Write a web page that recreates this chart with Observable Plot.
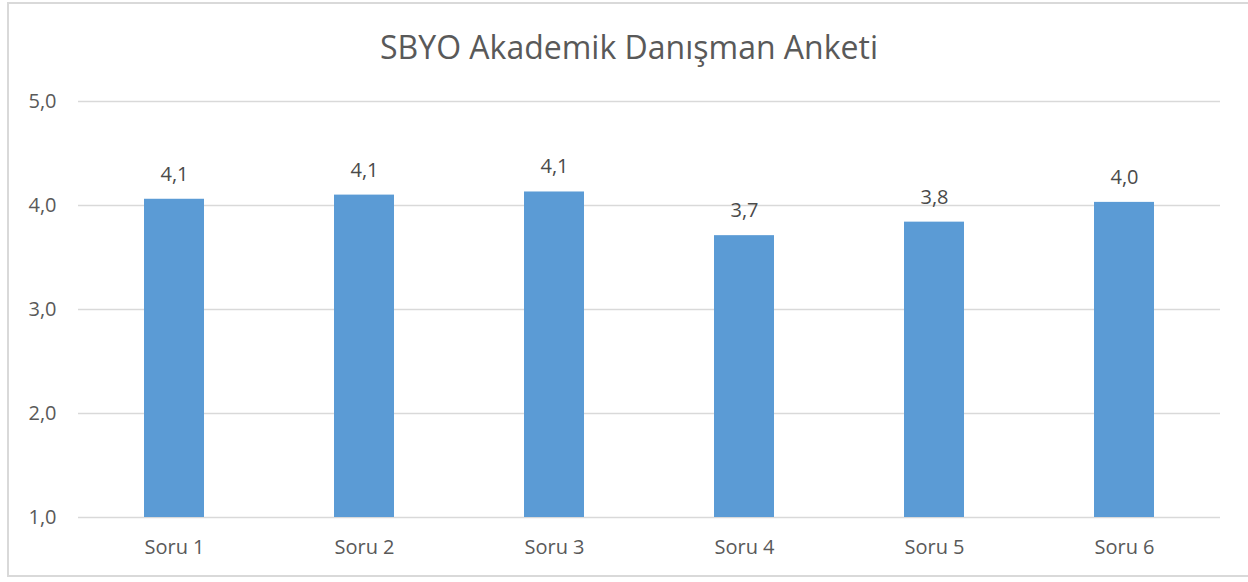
<!DOCTYPE html>
<html>
<head>
<meta charset="utf-8">
<script src="https://cdn.jsdelivr.net/npm/d3@7"></script>
<script src="https://cdn.jsdelivr.net/npm/@observablehq/plot@0.6"></script>
<style>
  html, body { margin: 0; padding: 0; background: #fff; }
  #frame { position: absolute; left: 7px; top: 2px; width: 1250px; height: 575px; border: 2px solid #d9d9d9; box-sizing: border-box; }
  #wrap { position: absolute; left: 0; top: 0; width: 1248px; }
  #title { height: 80px; line-height: 94px; text-align: center; font-family: "Open Sans", sans-serif; font-size: 32px; color: #595959; padding-left: 10px; }
</style>
</head>
<body>
<div id="frame"></div>
<div id="wrap">
  <div id="title">SBYO Akademik Danışman Anketi</div>
  <div id="chart"></div>
</div>
<script>
const categories = ["Soru 1", "Soru 2", "Soru 3", "Soru 4", "Soru 5", "Soru 6"];
const values = [4.06, 4.10, 4.13, 3.71, 3.84, 4.03];
const yTicks = [1, 2, 3, 4, 5];

const data = categories.map((c, i) => ({ q: categories[i], v: values[i] }));
const fmt = d => d.toFixed(1).replace(".", ",");

const chart = Plot.plot({
  width: 1248,
  height: 502,
  marginTop: 21,
  marginBottom: 65,
  marginLeft: 78,
  marginRight: 28,
  style: { fontFamily: "Open Sans, sans-serif", fontSize: "20px", color: "#595959", background: "transparent" },
  x: { domain: categories, paddingInner: 0.684, paddingOuter: 0.342, label: null, tickSize: 0, tickPadding: 22 },
  y: { domain: [1, 5], ticks: yTicks, tickFormat: fmt, label: null, tickSize: 0, tickPadding: 22 },
  marks: [
    Plot.gridY(yTicks, { stroke: "#d9d9d9", strokeOpacity: 1, strokeWidth: 1.5 }),
    Plot.barY(data, { x: "q", y1: 1, y2: "v", fill: "#5b9bd5" }),
    Plot.text(data, { x: "q", y: "v", text: d => fmt(d.v), dy: -25, fill: "#4a4a4a", fontSize: 20 })
  ]
});
document.getElementById("chart").appendChild(chart);
</script>
</body>
</html>
